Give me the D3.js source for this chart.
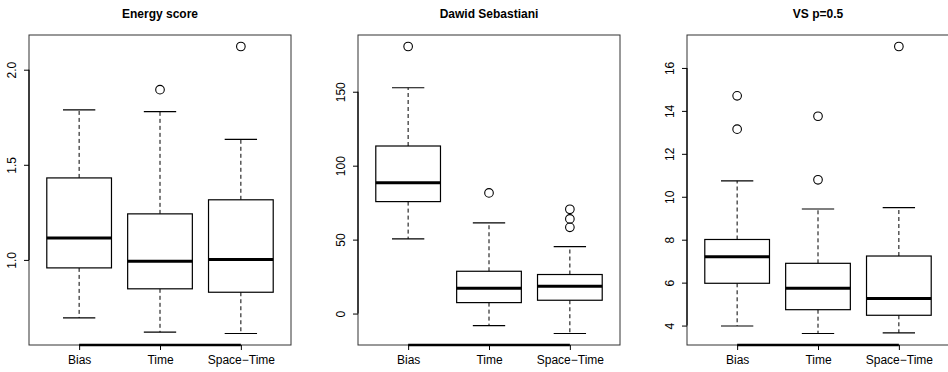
<!DOCTYPE html>
<html>
<head>
<meta charset="utf-8">
<script src="https://cdn.jsdelivr.net/npm/d3@7"></script>
<style>
	body { margin: 0; background: #fff; }
	svg text { font-family: "Liberation Sans", Arial, sans-serif; fill: #000; }
</style>
</head>
<body>
<svg id="chart" width="948" height="372"></svg>
<script>
// categories shared by every panel
const categories = ["Bias", "Time", "Space\u2212Time"];
const titles = ["Energy score", "Dawid Sebastiani", "VS p=0.5"];

// five-number summaries per category: [lowWhisker, q1, median, q3, highWhisker]
const energyStats = [
	[0.695, 0.958, 1.115, 1.431, 1.789],
	[0.62, 0.848, 0.993, 1.242, 1.78],
	[0.613, 0.83, 1.002, 1.316, 1.634],
];
const energyOutliers = [[], [1.895], [2.122]];
const energyTicks = [1.0, 1.5, 2.0];

const dsStats = [
	[50.5, 75.7, 88.5, 113.3, 152.7],
	[-8.1, 7.4, 17.1, 28.6, 61.3],
	[-13.5, 9.0, 18.4, 26.4, 45.3],
];
const dsOutliers = [[180.6], [81.6], [70.5, 64.0, 58.3]];
const dsTicks = [0, 50, 100, 150];

const vsStats = [
	[3.98, 5.97, 7.21, 8.01, 10.74],
	[3.63, 4.74, 5.74, 6.9, 9.43],
	[3.66, 4.48, 5.26, 7.24, 9.49],
];
const vsOutliers = [[14.7, 13.15], [13.75, 10.79], [17.0]];
const vsTicks = [4, 6, 8, 10, 12, 14, 16];

const panels = [
	{ title: titles[0], stats: energyStats, outliers: energyOutliers, ticks: energyTicks, fmt: d3.format(".1f") },
	{ title: titles[1], stats: dsStats, outliers: dsOutliers, ticks: dsTicks, fmt: d3.format("d") },
	{ title: titles[2], stats: vsStats, outliers: vsOutliers, ticks: vsTicks, fmt: d3.format("d") },
];

const svg = d3.select("#chart");
const plotW = 262;
const plotTop = 35;
const plotBottom = 345;
const panelStep = 329;
const firstLeft = 29;

panels.forEach((p, i) => {
	const left = firstLeft + panelStep * i;
	const g = svg.append("g").attr("transform", `translate(${left},0)`);

	// R style range: data extent padded by 4%
	const all = p.stats.flat().concat(p.outliers.flat());
	const ext = d3.extent(all);
	const pad = (ext[1] - ext[0]) * 0.04;
	const y = d3.scaleLinear()
		.domain([ext[0] - pad, ext[1] + pad])
		.range([plotBottom, plotTop]);

	const x = d3.scaleLinear()
		.domain([0.38, 3.62])
		.range([0, plotW]);

	const boxHalf = x(1.4) - x(1);
	const capHalf = boxHalf / 2;

	// frame
	g.append("rect")
		.attr("x", 0)
		.attr("y", plotTop)
		.attr("width", plotW)
		.attr("height", plotBottom - plotTop)
		.attr("fill", "none")
		.attr("stroke", "#333")
		.attr("stroke-width", 1);

	// title
	g.append("text")
		.attr("x", plotW / 2)
		.attr("y", 18)
		.attr("text-anchor", "middle")
		.attr("font-weight", "bold")
		.attr("font-size", "12px")
		.text(p.title);

	// y axis
	const yAxis = d3.axisLeft(y)
		.tickValues(p.ticks)
		.tickFormat(p.fmt)
		.tickSize(5)
		.tickSizeOuter(0);
	const ya = g.append("g").call(yAxis);
	ya.select(".domain").remove();
	ya.append("line")
		.attr("x1", 0).attr("x2", 0)
		.attr("y1", y(d3.min(p.ticks))).attr("y2", y(d3.max(p.ticks)))
		.attr("stroke", "#000").attr("stroke-width", 1.2);
	ya.selectAll(".tick line").attr("stroke", "#000");
	ya.selectAll(".tick text")
		.attr("font-size", "12px")
		.attr("font-family", "Liberation Sans, Arial, sans-serif")
		.attr("transform", "rotate(-90)")
		.attr("x", 0)
		.attr("y", -13)
		.attr("dy", 0)
		.attr("text-anchor", "middle");

	// x axis
	const xAxis = d3.axisBottom(x)
		.tickValues([1, 2, 3])
		.tickFormat((d) => categories[d - 1])
		.tickSize(5)
		.tickSizeOuter(0);
	const xa = g.append("g").attr("transform", `translate(0,${plotBottom})`).call(xAxis);
	xa.select(".domain").remove();
	xa.append("line")
		.attr("x1", x(1)).attr("x2", x(3))
		.attr("y1", 0).attr("y2", 0)
		.attr("stroke", "#000").attr("stroke-width", 2.5);
	xa.selectAll(".tick line").attr("stroke", "#000");
	xa.selectAll(".tick text")
		.attr("font-size", "12px")
		.attr("font-family", "Liberation Sans, Arial, sans-serif")
		.attr("y", 10)
		.attr("dy", "0.71em");

	// boxes
	p.stats.forEach((s, k) => {
		const cx = x(k + 1);
		const bg = g.append("g");
		// whiskers (dashed)
		bg.append("line")
			.attr("x1", cx).attr("x2", cx)
			.attr("y1", y(s[3])).attr("y2", y(s[4]))
			.attr("stroke", "#000").attr("stroke-dasharray", "4,3");
		bg.append("line")
			.attr("x1", cx).attr("x2", cx)
			.attr("y1", y(s[1])).attr("y2", y(s[0]))
			.attr("stroke", "#000").attr("stroke-dasharray", "4,3");
		// caps
		[s[0], s[4]].forEach((v) => {
			bg.append("line")
				.attr("x1", cx - capHalf).attr("x2", cx + capHalf)
				.attr("y1", y(v)).attr("y2", y(v))
				.attr("stroke", "#000").attr("stroke-width", 1.2);
		});
		// box
		bg.append("rect")
			.attr("x", cx - boxHalf)
			.attr("y", y(s[3]))
			.attr("width", boxHalf * 2)
			.attr("height", y(s[1]) - y(s[3]))
			.attr("fill", "#fff")
			.attr("stroke", "#000")
			.attr("stroke-width", 1.2);
		// median
		bg.append("line")
			.attr("x1", cx - boxHalf).attr("x2", cx + boxHalf)
			.attr("y1", y(s[2])).attr("y2", y(s[2]))
			.attr("stroke", "#000").attr("stroke-width", 3);
		// outliers
		bg.selectAll("circle")
			.data(p.outliers[k])
			.join("circle")
			.attr("cx", cx)
			.attr("cy", (d) => y(d))
			.attr("r", 4.3)
			.attr("fill", "none")
			.attr("stroke", "#000")
			.attr("stroke-width", 1.1);
	});
});
</script>
</body>
</html>
